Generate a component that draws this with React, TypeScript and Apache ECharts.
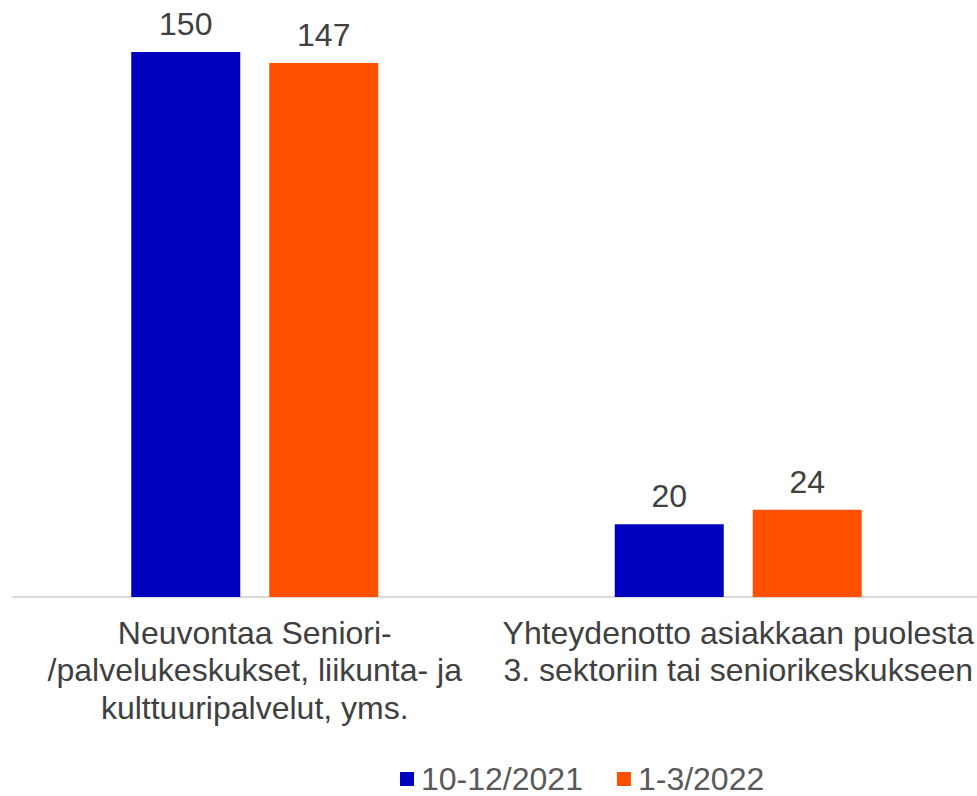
import React, { useEffect, useRef } from "react";
import * as echarts from "echarts";

const categories = [
  "Neuvontaa Seniori-\n/palvelukeskukset, liikunta- ja\nkulttuuripalvelut, yms.",
  "Yhteydenotto asiakkaan puolesta\n3. sektoriin tai seniorikeskukseen",
];
const seriesNames = ["10-12/2021", "1-3/2022"];
const values2021 = [150, 20];
const values2022 = [147, 24];
const colors = ["#0000BF", "#FF5000"];

export default function App() {
  const ref = useRef<HTMLDivElement>(null);
  useEffect(() => {
    const chart = echarts.init(ref.current!, null, { renderer: "svg" });
    const font = "Arial, 'Liberation Sans', sans-serif";
    const label = {
      show: true,
      position: "top" as const,
      distance: 12,
      fontSize: 32,
      color: "#404040",
      fontFamily: font,
    };
    chart.setOption({
      animation: false,
      grid: { left: 13, right: 5, top: 15.7, bottom: 199 },
      legend: {
        left: 400,
        top: 763,
        padding: 0,
        itemWidth: 14,
        itemHeight: 14,
        itemGap: 34,
        icon: "rect",
        textStyle: {
          fontSize: 32,
          lineHeight: 32,
          color: "#595959",
          fontFamily: font,
          padding: [0, 0, 0, 2],
        },
        data: seriesNames,
      },
      xAxis: {
        type: "category",
        data: categories,
        axisLine: { lineStyle: { color: "#D9D9D9", width: 2 } },
        axisTick: { show: false },
        axisLabel: {
          fontSize: 32,
          color: "#404040",
          fontFamily: font,
          lineHeight: 37.5,
          margin: 17,
          interval: 0,
        },
      },
      yAxis: {
        type: "value",
        min: 0,
        max: 160,
        show: false,
        splitLine: { show: false },
      },
      series: [
        {
          name: seriesNames[0],
          type: "bar",
          data: values2021,
          itemStyle: { color: colors[0] },
          barWidth: 109,
          barGap: "26.6%",
          label,
        },
        {
          name: seriesNames[1],
          type: "bar",
          data: values2022,
          itemStyle: { color: colors[1] },
          barWidth: 109,
          label,
        },
      ],
    });
    return () => chart.dispose();
  }, []);
  return (
    <div
      style={{
        position: "absolute",
        left: 0,
        top: 0,
        width: 977,
        height: 796,
        overflow: "hidden",
      }}
    >
      <div ref={ref} style={{ width: 985, height: 796 }} />
    </div>
  );
}
